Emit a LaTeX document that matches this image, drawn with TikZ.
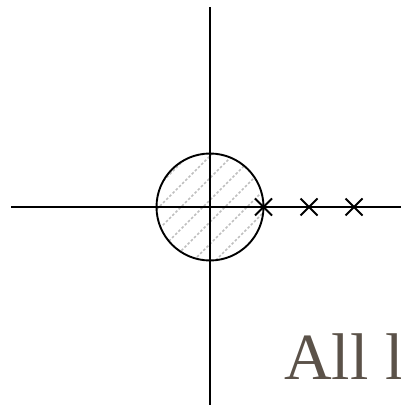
\documentclass[tikz,border=0pt]{standalone}
\usepackage{fontspec}
\setmainfont{Liberation Serif}
\usetikzlibrary{shapes.misc,calc}
\definecolor{txtcol}{HTML}{5B5249}
\begin{document}
\begin{tikzpicture}[x=1pt,y=1pt,
  axis/.style={line width=1.9pt},
  rim/.style={line width=1.9pt},
  zero/.style={cross out,draw,line width=2pt,minimum size=15pt,inner sep=0pt},
  hatch/.style={gray!50,line width=1.6pt,dash pattern=on 2.5pt off 2pt}]
\useasboundingbox (0,0) rectangle (401,416);
\coordinate (O) at (210,209);
\coordinate (top) at (210,409);
\coordinate (bot) at (210,11);
\coordinate (left) at (11,209);
\coordinate (right) at (412,209);
\begin{scope}
  \clip (O) circle (53.5);
  \foreach \k in {-6,...,6} {
    \draw[hatch] ($(O)+(\k*22-7-120,-120)$) -- ++(240,240);
  }
\end{scope}
\draw[axis] (left) -- (right);
\draw[axis] (bot) -- (top);
\draw[rim] (O) circle (53.5);
\node[zero] (z1) at (263.5,209) {};
\node[zero] (z2) at (309,209) {};
\node[zero] (z3) at (354,209) {};
\node[anchor=base west,text=txtcol,font=\fontsize{66}{70}\selectfont,inner sep=0pt] (lbl) at (284,37) {All l};
\end{tikzpicture}
\end{document}
